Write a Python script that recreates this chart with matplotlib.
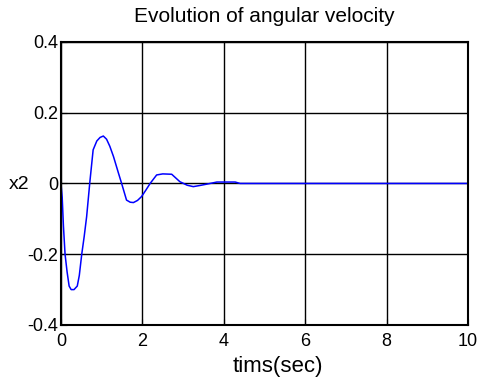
import matplotlib
matplotlib.use("Agg")
import matplotlib.pyplot as plt

plt.rcParams['font.family'] = ['Liberation Sans', 'DejaVu Sans']

# angular velocity samples
t = [0.0, 0.03, 0.06, 0.1, 0.15, 0.2, 0.25, 0.32, 0.4, 0.45, 0.51, 0.57, 0.63, 0.71,
     0.79, 0.88, 0.96, 1.04, 1.12, 1.2, 1.29, 1.41, 1.49, 1.61, 1.7, 1.78, 1.88, 1.98,
     2.09, 2.19, 2.35, 2.5, 2.72, 2.92, 3.1, 3.25, 3.4, 3.58, 3.83, 4.05, 4.28, 4.4, 10.0]
x2 = [0.0, -0.04, -0.12, -0.2, -0.25, -0.29, -0.30, -0.30, -0.29, -0.26, -0.2, -0.15,
      -0.094, 0.005, 0.095, 0.12, 0.13, 0.134, 0.125, 0.105, 0.076, 0.03, 0.0, -0.047,
      -0.053, -0.054, -0.048, -0.037, -0.018, 0.0, 0.024, 0.027, 0.026, 0.005, -0.005,
      -0.009, -0.006, -0.002, 0.004, 0.004, 0.004, 0.0, 0.0]
xticks = [0, 2, 4, 6, 8, 10]
yticks = [-0.4, -0.2, 0, 0.2, 0.4]
ytick_labels = ['-0.4', '-0.2', '0', '0.2', '0.4']

fig = plt.figure(figsize=(4.84, 3.81), dpi=100)
ax = fig.add_axes([0.126, 0.147, 0.841, 0.743])

ax.plot(t, x2, color='#0000ff', lw=1.1)

ax.set_xlim(0, 10)
ax.set_ylim(-0.4, 0.4)
ax.set_xticks(xticks)
ax.set_xticklabels([str(v) for v in xticks])
ax.set_yticks(yticks)
ax.set_yticklabels(ytick_labels)
ax.grid(True, color='black', linestyle='-', linewidth=1.0)
ax.tick_params(direction='in', length=4, labelsize=13)
ax.tick_params(axis='x', pad=6)
ax.tick_params(axis='y', pad=2)
for s in ax.spines.values():
    s.set_linewidth(1.5)

ax.set_title("Evolution of angular velocity", fontsize=15, pad=14)
ax.set_xlabel("tims(sec)", fontsize=16, ha='center', va='center')
ax.xaxis.set_label_coords(0.533, -0.145)
ax.set_ylabel("x2", fontsize=14, rotation=0, ha='center', va='center')
ax.yaxis.set_label_coords(-0.102, 0.495)

fig.savefig("out.png", dpi=100)
